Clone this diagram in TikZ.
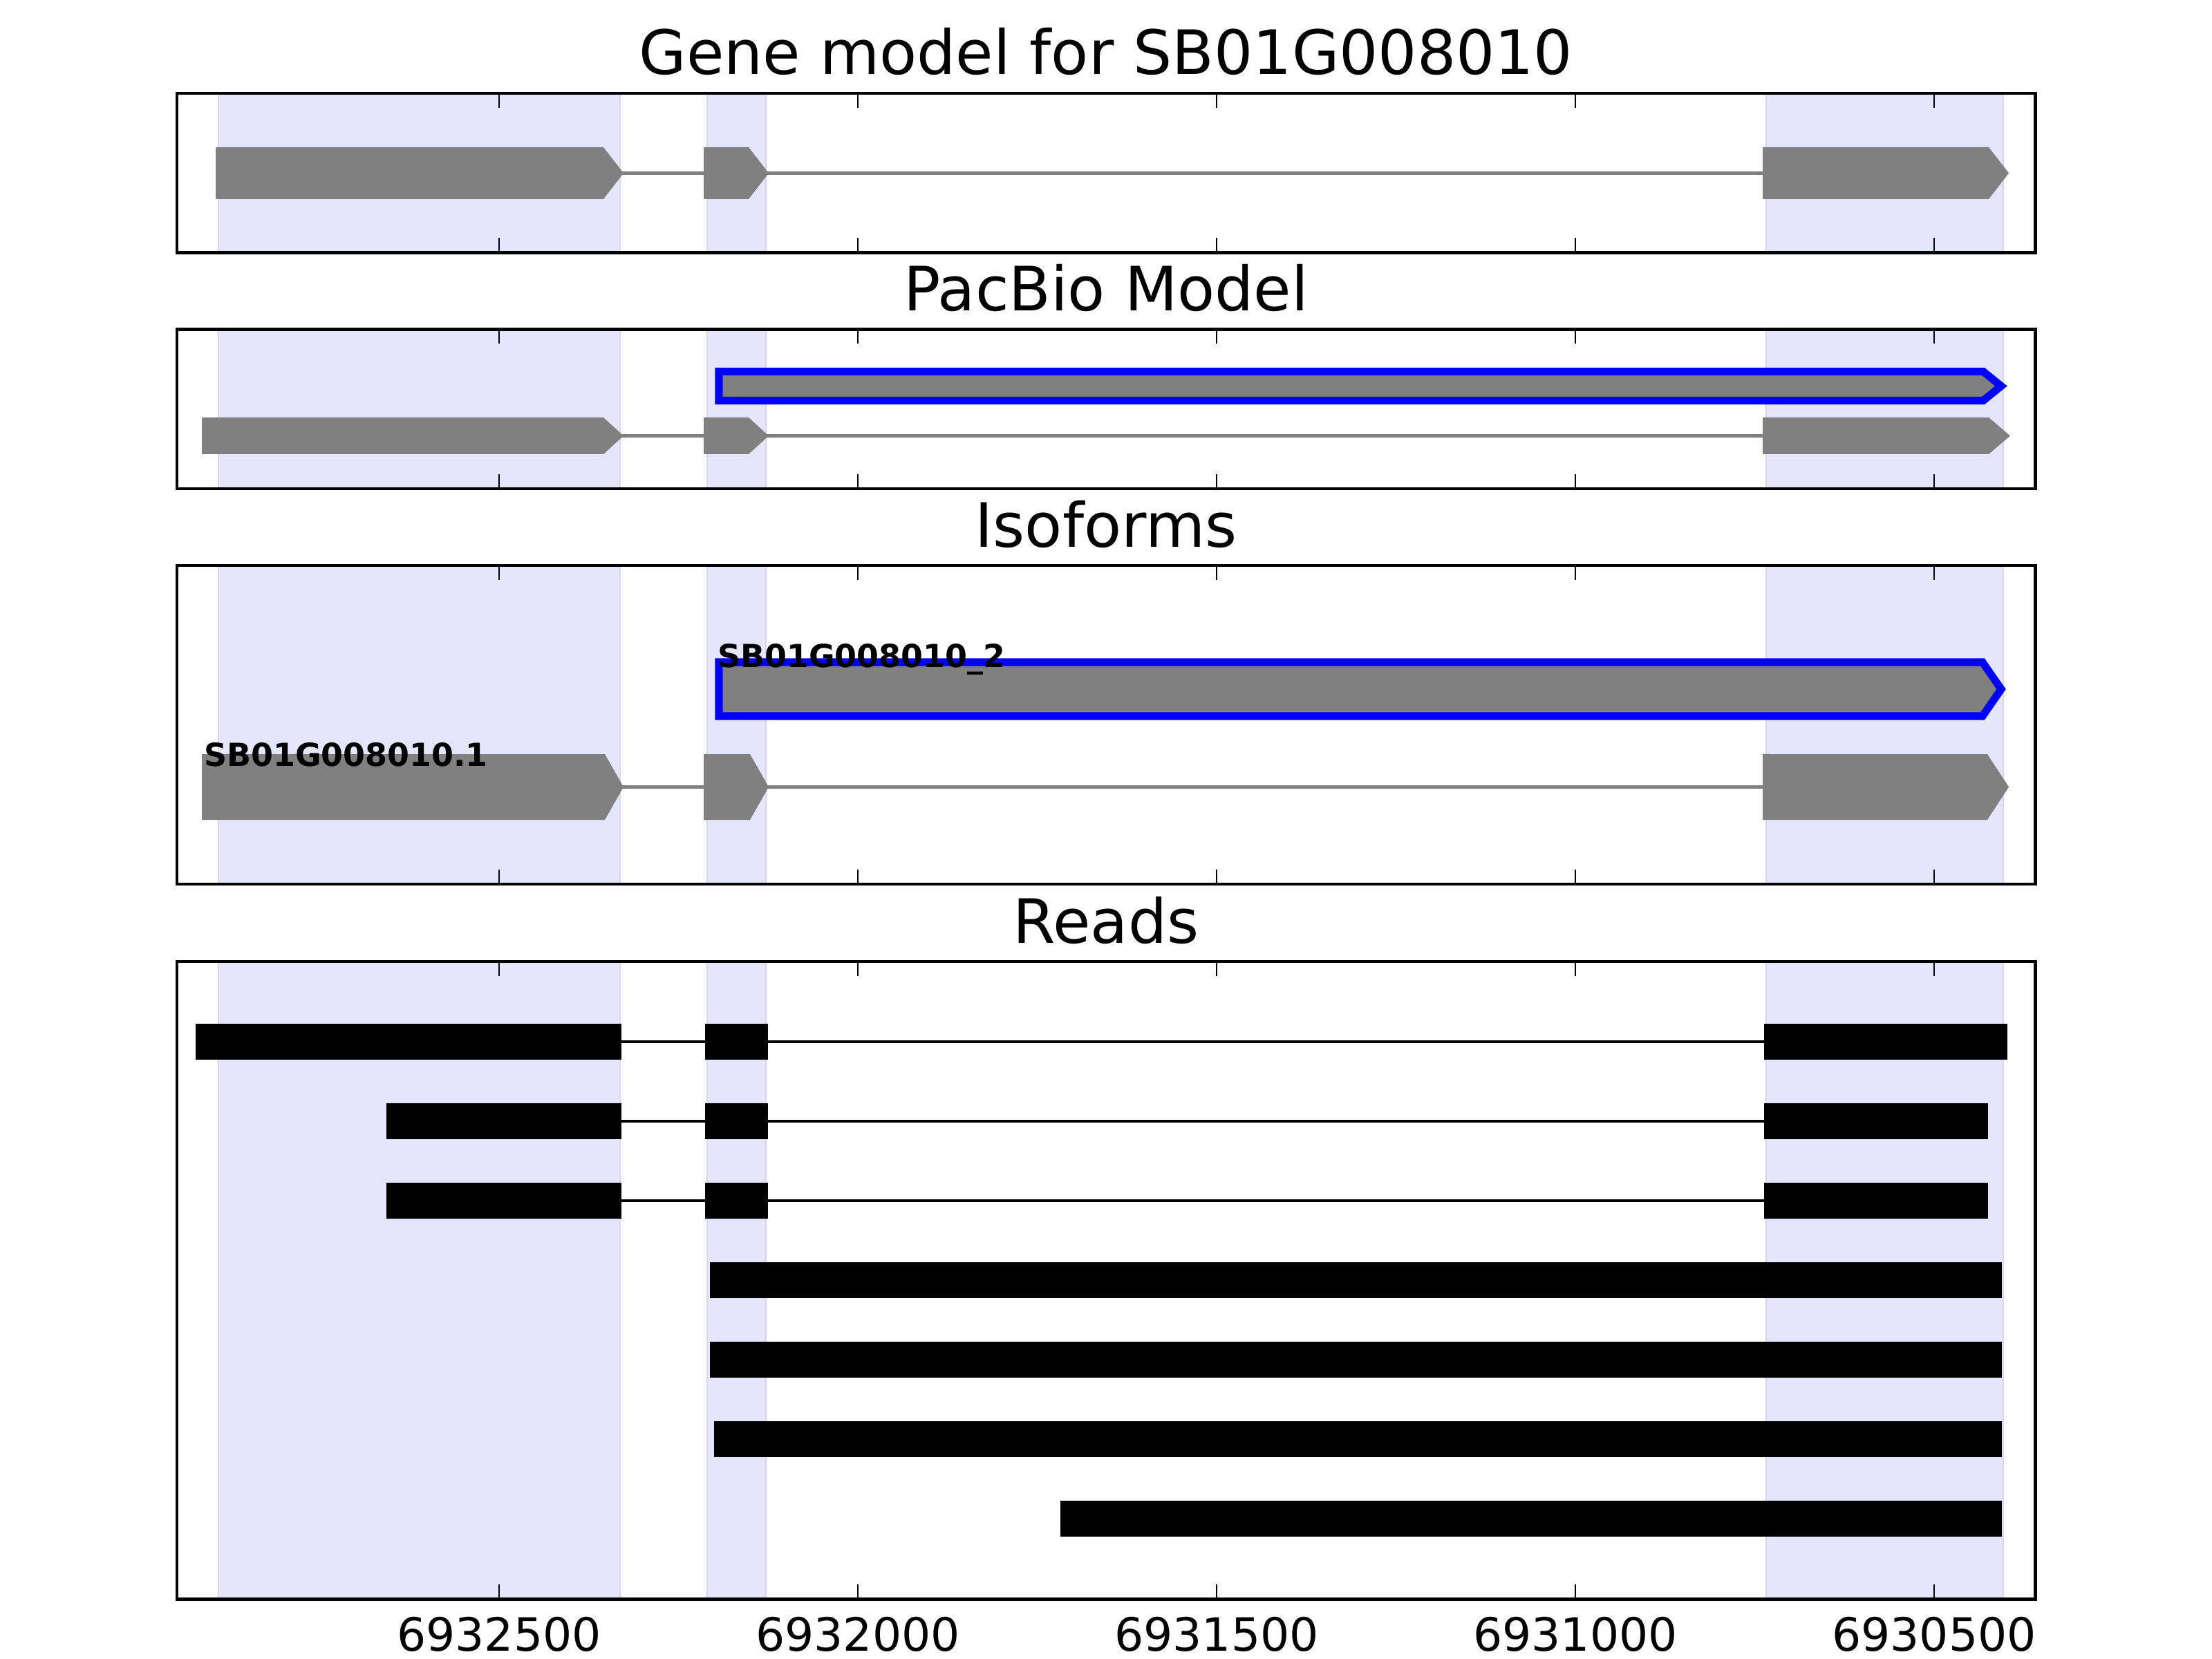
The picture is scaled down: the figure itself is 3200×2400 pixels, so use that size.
\documentclass[tikz,border=0pt]{standalone}
\usepackage{fontspec}
\setmainfont{DejaVu Sans}
\definecolor{spanfill}{RGB}{229,229,253}
\definecolor{spanedge}{RGB}{214,214,236}
\definecolor{genegray}{RGB}{128,128,128}
\definecolor{pureblue}{RGB}{0,0,255}
\newcommand\genearrow[5]{%
  \fill[genegray] (#1,#3-#4) -- (#2-#5,#3-#4) -- (#2,#3) -- (#2-#5,#3+#4) -- (#1,#3+#4) -- cycle;}
\newcommand\readblock[3]{%
  \fill[black] (#1,#3-26) rectangle (#2,#3+26);}
\begin{document}
\begin{tikzpicture}[x=0.0025in,y=-0.0025in,
  frame/.style={draw=black, line width=0.9pt},
  tickmark/.style={draw=black, line width=0.5pt},
  intron/.style={draw=genegray, line width=0.9pt},
  readline/.style={draw=black, line width=0.9pt},
  isoout/.style={draw=pureblue, fill=genegray, line width=2pt, line join=miter},
  exonspan/.style={fill=spanfill, draw=spanedge, line width=0.4pt},
  paneltitle/.style={anchor=base, inner sep=0pt, font=\fontsize{16}{19}\selectfont},
  ticklabel/.style={anchor=base, inner sep=0pt, font=\fontsize{12}{14}\selectfont},
  isolabel/.style={anchor=base west, inner sep=0pt, font=\fontsize{8.3}{10}\selectfont\bfseries}]
\useasboundingbox (0,0) rectangle (3200,2400);
\fill[white] (0,0) rectangle (3200,2400);
% shaded exon regions
\foreach \t/\b in {135/365.5, 476.5/707, 818/1279, 1391/2313} {
  \foreach \xa/\xb in {316/897, 1023/1108, 2555/2898} {
    \path[exonspan] (\xa,\t) rectangle (\xb,\b);
  }
}
% panel 1: gene model
\draw[intron] (312,250.5) -- (2550,250.5);
\genearrow{312}{902}{250.5}{37.5}{29}
\genearrow{1018}{1112}{250.5}{37.5}{29}
\genearrow{2550}{2906}{250.5}{37.5}{29}
% panel 2: PacBio model
\draw[isoout] (1040,537.5) -- (2869,537.5) -- (2895,558.5) -- (2869,579.5) -- (1040,579.5) -- cycle;
\draw[intron] (292,630.5) -- (2550,630.5);
\genearrow{292}{902}{630.5}{26.5}{29}
\genearrow{1018}{1112}{630.5}{26.5}{29}
\genearrow{2550}{2908}{630.5}{26.5}{31}
% panel 3: isoforms
\draw[isoout] (1040,958) -- (2868,958) -- (2895,997) -- (2868,1036) -- (1040,1036) -- cycle;
\draw[intron] (292,1138.5) -- (2550,1138.5);
\genearrow{292}{902}{1138.5}{47.5}{27}
\genearrow{1018}{1112}{1138.5}{47.5}{27}
\genearrow{2550}{2906}{1138.5}{47.5}{31}
\node[isolabel] (lab1) at (294,1108) {SB01G008010.1};
\node[isolabel] (lab2) at (1037,966) {SB01G008010\_2};
% panel 4: reads
\draw[readline] (283,1507) -- (2904,1507);
\readblock{283}{899}{1507}\readblock{1020}{1111}{1507}\readblock{2552}{2904}{1507}
\draw[readline] (559,1622) -- (2876,1622);
\readblock{559}{899}{1622}\readblock{1020}{1111}{1622}\readblock{2552}{2876}{1622}
\draw[readline] (559,1737) -- (2876,1737);
\readblock{559}{899}{1737}\readblock{1020}{1111}{1737}\readblock{2552}{2876}{1737}
\readblock{1027}{2896}{1852}
\readblock{1027}{2896}{1967}
\readblock{1033}{2896}{2082}
\readblock{1534}{2896}{2197}
% frames and ticks
\foreach \t/\b in {135/365.5, 476.5/707, 818/1279, 1391/2313} {
  \draw[frame] (256,\t) rectangle (2944,\b);
  \foreach \xx in {722,1241,1760,2279,2798} {
    \draw[tickmark] (\xx,\t) -- ++(0,21);
    \draw[tickmark] (\xx,\b) -- ++(0,-21);
  }
}
% titles
\node[paneltitle] (t1) at (1600,108) {Gene model for SB01G008010};
\node[paneltitle] (t2) at (1600,449.5) {PacBio Model};
\node[paneltitle] (t3) at (1600,791) {Isoforms};
\node[paneltitle] (t4) at (1600,1364) {Reads};
% tick labels
\node[ticklabel] (k1) at (722,2388) {6932500};
\node[ticklabel] (k2) at (1241,2388) {6932000};
\node[ticklabel] (k3) at (1760,2388) {6931500};
\node[ticklabel] (k4) at (2279,2388) {6931000};
\node[ticklabel] (k5) at (2798,2388) {6930500};
\end{tikzpicture}
\end{document}
